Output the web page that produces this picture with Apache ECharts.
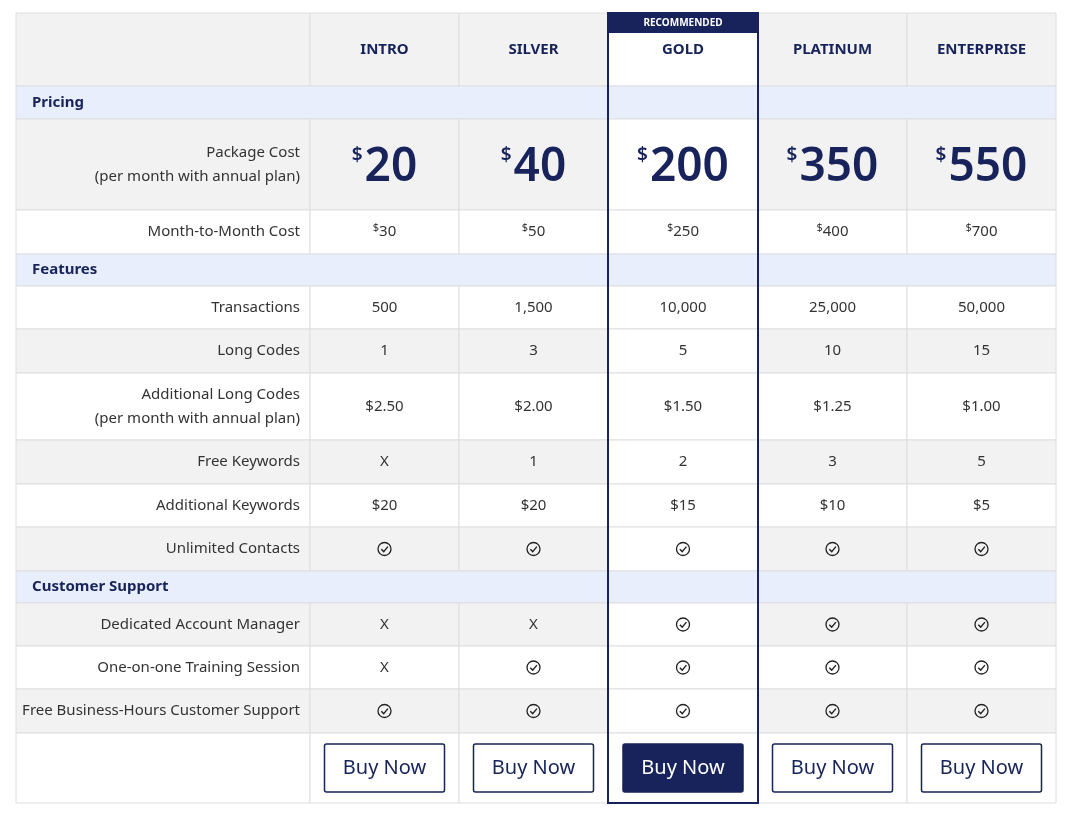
<!DOCTYPE html>
<html><head><meta charset="utf-8">
<script src="https://cdn.jsdelivr.net/npm/echarts@6/dist/echarts.min.js"></script>
<style>html,body{margin:0;padding:0;background:#fff}#c{width:1070px;height:815px}</style>
</head><body><div id="c"></div>
<script>
// ---- data ----
const plans = ['INTRO','SILVER','GOLD','PLATINUM','ENTERPRISE'];
const recommendedPlan = 'GOLD';
const packageCost = [20,40,200,350,550];
const monthCost = [30,50,250,400,700];
const transactions = ['500','1,500','10,000','25,000','50,000'];
const longCodes = ['1','3','5','10','15'];
const addLongCodes = ['$2.50','$2.00','$1.50','$1.25','$1.00'];
const freeKeywords = ['X','1','2','3','5'];
const addKeywords = ['$20','$20','$15','$10','$5'];
const unlimitedContacts = [true,true,true,true,true];
const dedicatedManager = [false,false,true,true,true];
const trainingSession = [false,true,true,true,true];
const businessSupport = [true,true,true,true,true];
const buttonLabel = 'Buy Now';

// ---- layout ----
const colEdges = [16,310,459,608,758,907,1056];
const rows = [
  {type:'header', h:73},
  {type:'section', label:'Pricing', h:33},
  {type:'price', label:'Package Cost\n(per month with annual plan)', vals:packageCost, h:91, gray:true},
  {type:'small', label:'Month-to-Month Cost', vals:monthCost, h:44, gray:false},
  {type:'section', label:'Features', h:32},
  {type:'text', label:'Transactions', vals:transactions, h:43, gray:false},
  {type:'text', label:'Long Codes', vals:longCodes, h:44, gray:true},
  {type:'text', label:'Additional Long Codes\n(per month with annual plan)', vals:addLongCodes, h:67, gray:false},
  {type:'text', label:'Free Keywords', vals:freeKeywords, h:44, gray:true},
  {type:'text', label:'Additional Keywords', vals:addKeywords, h:43, gray:false},
  {type:'check', label:'Unlimited Contacts', vals:unlimitedContacts, h:44, gray:true},
  {type:'section', label:'Customer Support', h:32},
  {type:'check', label:'Dedicated Account Manager', vals:dedicatedManager, h:43, gray:true},
  {type:'check', label:'One-on-one Training Session', vals:trainingSession, h:43, gray:false},
  {type:'check', label:'Free Business-Hours Customer Support', vals:businessSupport, h:44, gray:true},
  {type:'button', h:70}
];
const top0 = 13;
const NAVY = '#17235a', GRAY='#f2f2f2', BLUE='#e8eefb', LINE='#dedede', TXT='#333';
const FONT = '"Noto Sans", "Open Sans", sans-serif';

const cells = [];
let y = top0;
rows.forEach(r => {
  const y0 = y, y1 = y + r.h; y = y1;
  if (r.type === 'section') {
    cells.push({value:[colEdges[0],y0,colEdges[6],y1], kind:'section', label:r.label});
    return;
  }
  const gray = r.type==='header' ? true : r.gray;
  cells.push({value:[colEdges[0],y0,colEdges[1],y1], kind:'label', label:r.label||'', fill: gray?GRAY:'#fff'});
  for (let i=0;i<5;i++) {
    const gold = plans[i]===recommendedPlan;
    const fill = gold ? '#fff' : (gray?GRAY:'#fff');
    const c = {value:[colEdges[i+1],y0,colEdges[i+2],y1], kind:r.type, fill, gold};
    if (r.type==='header') c.text = plans[i];
    else if (r.type==='button') c.text = buttonLabel;
    else c.v = r.vals[i];
    cells.push(c);
  }
});
const gi = plans.indexOf(recommendedPlan);
cells.push({value:[colEdges[gi+1],top0,colEdges[gi+2],y], kind:'goldframe'});

function renderItem(params, api) {
  const c = cells[params.dataIndex];
  const p0 = api.coord([c.value[0], c.value[1]]);
  const p1 = api.coord([c.value[2], c.value[3]]);
  const x0=p0[0], y0=p0[1], w=p1[0]-p0[0], h=p1[1]-p0[1];
  const cx = x0+w/2, cy = y0+h/2;
  const ch = [];
  if (c.kind==='goldframe') {
    ch.push({type:'rect', shape:{x:x0,y:y0,width:w,height:20}, style:{fill:NAVY}});
    ch.push({type:'text', style:{x:cx,y:y0+10,text:'RECOMMENDED',fill:'#fff',font:'bold 10px '+FONT,align:'center',verticalAlign:'middle'}});
    ch.push({type:'rect', shape:{x:x0,y:y0,width:w,height:h}, style:{fill:null,stroke:NAVY,lineWidth:2}});
    return {type:'group', children:ch};
  }
  if (c.kind==='section') {
    ch.push({type:'rect', shape:{x:x0,y:y0,width:w,height:h}, style:{fill:BLUE,stroke:LINE,lineWidth:1}});
    ch.push({type:'text', style:{x:x0+16,y:cy,text:c.label,fill:NAVY,font:'bold 15px '+FONT,verticalAlign:'middle'}});
    return {type:'group', children:ch};
  }
  ch.push({type:'rect', shape:{x:x0,y:y0,width:w,height:h}, style:{fill:c.fill,stroke:LINE,lineWidth:1}});
  if (c.kind==='label') {
    ch.push({type:'text', style:{x:x0+w-10,y:cy,text:c.label,fill:TXT,font:'15px '+FONT,align:'right',verticalAlign:'middle',lineHeight:24}});
  } else if (c.kind==='header') {
    ch.push({type:'text', style:{x:cx,y:y0+37,text:c.text,fill:NAVY,font:'bold 15px '+FONT,align:'center',verticalAlign:'middle'}});
  } else if (c.kind==='price') {
    ch.push({type:'text', style:{x:cx,y:cy+3,text:'{s|$}{b|'+c.v+'}',align:'center',verticalAlign:'middle',
      rich:{s:{fontSize:19,fontFamily:FONT,fontWeight:600,fill:NAVY,color:NAVY,padding:[0,2,24,0]},
            b:{fontSize:46,fontFamily:FONT,fontWeight:600,fill:NAVY,color:NAVY}}}});
  } else if (c.kind==='small') {
    ch.push({type:'text', style:{x:cx,y:cy,text:'{s|$}{b|'+c.v+'}',align:'center',verticalAlign:'middle',
      rich:{s:{fontSize:11,fontFamily:FONT,fill:TXT,color:TXT,padding:[0,0,8,0]},
            b:{fontSize:15,fontFamily:FONT,fill:TXT,color:TXT}}}});
  } else if (c.kind==='text') {
    ch.push({type:'text', style:{x:cx,y:cy,text:c.v,fill:TXT,font:'15px '+FONT,align:'center',verticalAlign:'middle'}});
  } else if (c.kind==='check') {
    if (c.v) {
      ch.push({type:'circle', shape:{cx:cx,cy:cy,r:6.5}, style:{fill:null,stroke:'#222',lineWidth:1.3}});
      ch.push({type:'polyline', shape:{points:[[cx-3.2,cy+0.2],[cx-0.8,cy+2.6],[cx+3.4,cy-2.4]]}, style:{fill:null,stroke:'#222',lineWidth:1.4}});
    } else {
      ch.push({type:'text', style:{x:cx,y:cy,text:'X',fill:TXT,font:'15px '+FONT,align:'center',verticalAlign:'middle'}});
    }
  } else if (c.kind==='button') {
    const bw=120, bh=48;
    ch.push({type:'rect', shape:{x:cx-bw/2,y:y0+11,width:bw,height:bh,r:2}, style:{fill:c.gold?NAVY:'#fff',stroke:NAVY,lineWidth:1.5}});
    ch.push({type:'text', style:{x:cx,y:y0+11+bh/2,text:c.text,fill:c.gold?'#fff':NAVY,font:'20px '+FONT,align:'center',verticalAlign:'middle'}});
  }
  return {type:'group', children:ch};
}

const chart = echarts.init(document.getElementById('c'));
chart.setOption({
  animation:false,
  grid:{left:0,right:0,top:0,bottom:0},
  xAxis:{type:'value',min:0,max:1070,show:false},
  yAxis:{type:'value',min:0,max:815,inverse:true,show:false},
  series:[{type:'custom', renderItem, data:cells, encode:{x:[0,2],y:[1,3]}, silent:true, clip:false}]
});
</script></body></html>
